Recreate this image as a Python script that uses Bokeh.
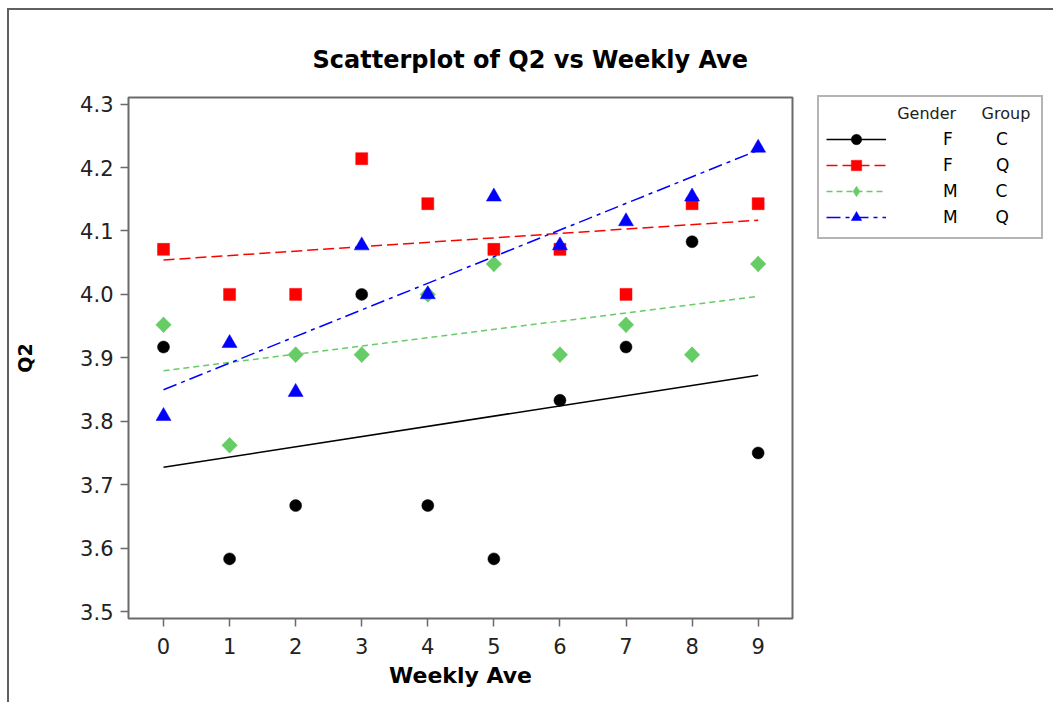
import numpy as np
from bokeh.plotting import figure
from bokeh.models import Legend, LegendItem, FixedTicker, NumeralTickFormatter, Range1d
from bokeh.embed import file_html
from bokeh.resources import INLINE

# ---- data ----
weekly_ave = [0, 1, 2, 3, 4, 5, 6, 7, 8, 9]
q2_f_c = [3.917, 3.583, 3.667, 4.000, 3.667, 3.583, 3.833, 3.917, 4.083, 3.750]
q2_f_q = [4.071, 4.000, 4.000, 4.214, 4.143, 4.071, 4.071, 4.000, 4.143, 4.143]
q2_m_c = [3.952, 3.762, 3.905, 3.905, 4.000, 4.048, 3.905, 3.952, 3.905, 4.048]
q2_m_q = [3.808, 3.923, 3.846, 4.077, 4.000, 4.154, 4.077, 4.115, 4.154, 4.231]
gender = ["F", "F", "M", "M"]
group = ["C", "Q", "C", "Q"]
x_ticks = [0, 1, 2, 3, 4, 5, 6, 7, 8, 9]
y_ticks = [3.5, 3.6, 3.7, 3.8, 3.9, 4.0, 4.1, 4.2, 4.3]

FONT = "DejaVu Sans"
GRAY = "#6a6a6a"
NB = "\u00a0"

p = figure(frame_width=664, frame_height=521, output_backend="svg", toolbar_location=None,
           x_range=Range1d(-0.53, 9.52), y_range=Range1d(3.489, 4.3104),
           min_border_left=119, min_border_right=250, min_border_top=87, min_border_bottom=84)
p.styles = {"border-left": "2px solid #606060", "border-top": "2px solid #606060",
            "margin-left": "7px", "margin-top": "8px"}
p.background_fill_color = "white"
p.border_fill_color = "white"
p.grid.visible = False
p.outline_line_color = GRAY
p.outline_line_width = 2

p.title.text = "Scatterplot of Q2 vs Weekly Ave"
p.title.text_font = FONT
p.title.text_font_size = "24px"
p.title.text_font_style = "bold"
p.title.align = "left"
p.title.offset = 184
p.title.standoff = 48
p.title.text_color = "black"

for ax in (p.xaxis[0], p.yaxis[0]):
    ax.axis_line_color = None
    ax.major_tick_out = 8
    ax.major_tick_in = 0
    ax.major_tick_line_color = GRAY
    ax.major_tick_line_width = 1.5
    ax.minor_tick_line_color = None
    ax.major_label_text_font = FONT
    ax.major_label_text_font_size = "21px"
    ax.major_label_text_color = "#222222"
    ax.axis_label_text_font = FONT
    ax.axis_label_text_font_style = "bold"
    ax.axis_label_text_color = "black"

p.xaxis.ticker = FixedTicker(ticks=x_ticks)
p.yaxis.ticker = FixedTicker(ticks=y_ticks)
p.yaxis.formatter = NumeralTickFormatter(format="0.0")
p.xaxis.major_label_standoff = 11
p.yaxis.major_label_standoff = 7
p.xaxis.axis_label = "Weekly Ave"
p.xaxis.axis_label_text_font_size = "22px"
p.xaxis.axis_label_standoff = 6
p.yaxis.axis_label = "Q2"
p.yaxis.axis_label_text_font_size = "19px"
p.yaxis.axis_label_standoff = 41

series = [
    (q2_f_c, "black", "circle", 12, 0, "solid"),
    (q2_f_q, "#ff0000", "square", 12, 0, "11 5"),
    (q2_m_c, "#66cc66", "square", 11, np.pi / 4, "6 4"),
    (q2_m_q, "#0000ff", "triangle", 15, 0, "14 5 4 5"),
]

xs = np.array(weekly_ave, dtype=float)
items = []
for (ys, color, marker, size, ang, dash), g, gr in zip(series, gender, group):
    slope, icpt = np.polyfit(xs, np.array(ys), 1)
    fx = [xs.min(), xs.max()]
    fy = [icpt + slope * v for v in fx]
    lr = p.line(fx, fy, line_color=color, line_width=1.5, line_dash=dash)
    if ang:
        # diamond (drawn underneath the rotated square) serves as the legend glyph
        leg_r = p.scatter(weekly_ave, ys, marker="diamond", size=15.5, fill_color=color,
                          line_color=color, line_width=0.5)
    sr = p.scatter(weekly_ave, ys, marker=marker, size=size, angle=ang,
                   fill_color=color, line_color=color, line_width=0.5)
    if not ang:
        leg_r = sr
    pad = NB * (8 if g == "F" else 7)
    items.append(LegendItem(label=g + pad + gr, renderers=[lr, leg_r]))

legend = Legend(items=items, location=(25, 379), glyph_width=60, glyph_height=26,
                label_width=91, label_standoff=57, label_height=26, spacing=0, padding=7, margin=0,
                border_line_color=GRAY, border_line_width=2, background_fill_color="white",
                background_fill_alpha=1.0, label_text_font=FONT, label_text_font_size="17px",
                label_text_color="black",
                title=NB * 14 + "Gender" + NB * 5 + "Group", title_text_font=FONT,
                title_text_font_size="16px", title_text_font_style="normal",
                title_text_color="#222222", title_standoff=3)
p.add_layout(legend, "right")

open("out.html", "w").write(file_html(p, INLINE))
